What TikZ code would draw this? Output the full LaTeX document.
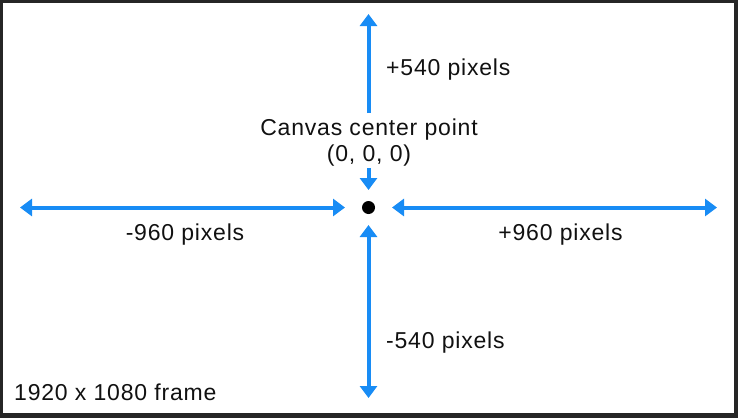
\documentclass[tikz,border=0pt]{standalone}
\usepackage{fontspec}
\setmainfont{Liberation Sans}[LetterSpace=3.5]
\usetikzlibrary{arrows.meta}
\definecolor{arrowblue}{RGB}{24,140,245}
\definecolor{framedark}{RGB}{38,38,38}
\definecolor{textdark}{RGB}{17,17,17}
\tikzset{
  axis/.style={draw=arrowblue, line width=4pt,
    arrows={Triangle[length=12pt,width=17pt,fill=arrowblue]-Triangle[length=12pt,width=17pt,fill=arrowblue]}},
  onearrow/.style={draw=arrowblue, line width=4pt,
    arrows={-Triangle[length=12pt,width=17pt,fill=arrowblue]}},
  lbl/.style={text=textdark, inner sep=0pt, font=\fontsize{23}{26}\selectfont}
}
\begin{document}
\begin{tikzpicture}[x=1pt,y=-1pt]
\useasboundingbox (0,0) rectangle (738,418);
\fill[framedark] (0,0) rectangle (738,418);
\fill[white] (3,3) rectangle (734,413);
% center dot
\node[circle, fill=black, minimum size=13pt, inner sep=0pt] (c) at (368.5,207.5) {};
% coordinates
\coordinate (topTip) at (368.5,14);
\coordinate (topEnd) at (368.5,113);
\coordinate (smallStart) at (368.5,168);
\coordinate (smallTip) at (368.5,190);
\coordinate (leftTip) at (20,207.5);
\coordinate (leftIn) at (345,207.5);
\coordinate (rightIn) at (392,207.5);
\coordinate (rightTip) at (717,207.5);
\coordinate (botIn) at (368.5,225);
\coordinate (botTip) at (368.5,398);
% arrows
\draw[onearrow] (topEnd) -- (topTip);
\draw[onearrow] (smallStart) -- (smallTip);
\draw[axis] (leftTip) -- (leftIn);
\draw[axis] (rightIn) -- (rightTip);
\draw[axis] (botIn) -- (botTip);
% labels
\node[lbl, anchor=base west] (lp540) at (386,75) {+540 pixels};
\node[lbl, align=center, anchor=center] (ctr) at (369,143) {Canvas center point\\(0, 0, 0)};
\node[lbl, anchor=base] (lm960) at (185,240) {-960 pixels};
\node[lbl, anchor=base] (lp960) at (560.5,240) {+960 pixels};
\node[lbl, anchor=base west] (lm540) at (386,348) {-540 pixels};
\node[lbl, anchor=base west] (frame) at (14,400) {1920 x 1080 frame};
\end{tikzpicture}
\end{document}
